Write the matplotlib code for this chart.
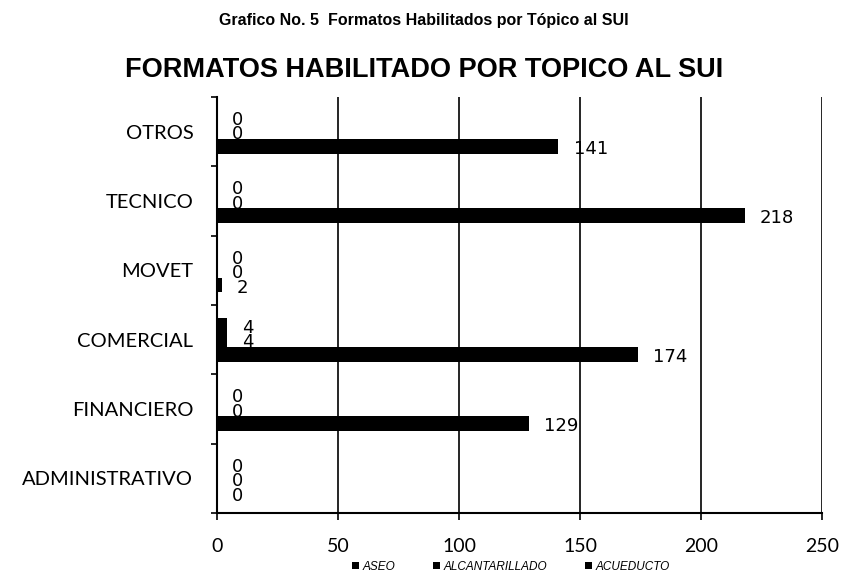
import matplotlib
matplotlib.use("Agg")
import matplotlib.pyplot as plt
import numpy as np

categories = ["ADMINISTRATIVO", "FINANCIERO", "COMERCIAL", "MOVET", "TECNICO", "OTROS"]
aseo = [0, 129, 174, 2, 218, 141]
alcantarillado = [0, 0, 4, 0, 0, 0]
acueducto = [0, 0, 4, 0, 0, 0]
series_names = ["ASEO", "ALCANTARILLADO", "ACUEDUCTO"]
xticks = [0, 50, 100, 150, 200, 250]

fig = plt.figure(figsize=(8.45, 5.77), dpi=100)
ax = fig.add_axes([0.2568, 0.1109, 0.716, 0.721])

y = np.arange(len(categories))
h = 0.21
for i, vals in enumerate([aseo, alcantarillado, acueducto]):
    pos = y + (i - 1) * h
    ax.barh(pos, vals, height=h, color="black", label=series_names[i])
    for p, v in zip(pos, vals):
        ax.annotate(str(v), (v, p), xytext=(11, -2), textcoords="offset points",
                    ha="left", va="center", fontsize=13, family="DejaVu Sans")

ax.set_xlim(0, 250)
ax.set_ylim(-0.5, len(categories) - 0.5)
ax.set_xticks(xticks)
ax.set_xticklabels([str(t) for t in xticks], fontsize=14, family="Lato")
ax.set_yticks(y)
ax.set_yticklabels(categories, fontsize=14.5, family="Lato")
ax.set_yticks(np.arange(-0.5, len(categories)), minor=True)
ax.tick_params(axis="y", which="major", length=0, pad=17)
ax.tick_params(axis="y", which="minor", length=4, width=1.2, direction="out")
ax.tick_params(axis="x", length=5, width=1.2, pad=13)
ax.xaxis.grid(True, color="black", lw=1.2)
ax.set_axisbelow(True)
for s in ["top", "right"]:
    ax.spines[s].set_visible(False)
for s in ["left", "bottom"]:
    ax.spines[s].set_linewidth(1.5)

fig.text(0.502, 0.965, "Grafico No. 5  Formatos Habilitados por Tópico al SUI",
         ha="center", va="center", fontsize=11.5, weight="bold", family="Liberation Sans")
fig.text(0.502, 0.878, "FORMATOS HABILITADO POR TOPICO AL SUI",
         ha="center", va="center", fontsize=19.5, weight="bold", family="Liberation Sans")

leg = fig.legend(loc="center", bbox_to_anchor=(0.605, 0.018), ncol=3, frameon=False,
                 prop={"size": 8.5, "style": "italic", "family": "Liberation Sans"},
                 handlelength=0.6, handleheight=0.6, handletextpad=0.3, columnspacing=3.2)

fig.savefig("out.png", dpi=100, facecolor="white")
